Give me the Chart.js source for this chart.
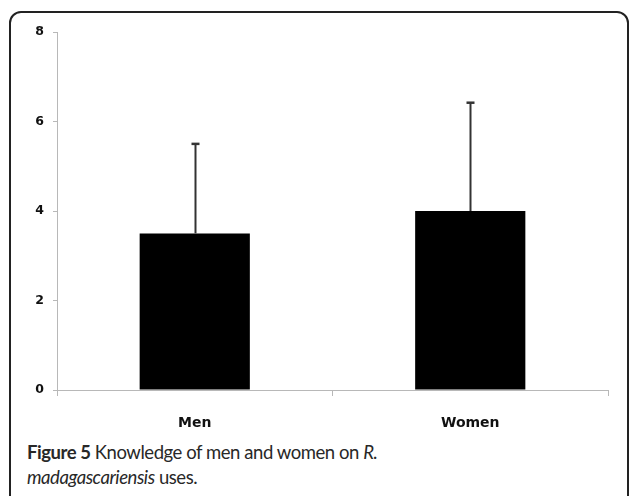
<!DOCTYPE html>
<html>
<head>
<meta charset="utf-8">
<script src="https://cdn.jsdelivr.net/npm/chart.js@4/dist/chart.umd.min.js"></script>
<style>
  html, body { margin: 0; padding: 0; background: #fff; width: 630px; height: 496px; overflow: hidden; }
  #frame {
    position: absolute; left: 9px; top: 11px; width: 620px; height: 620px;
    border: 2px solid #222; border-radius: 12px; box-sizing: border-box;
  }
  #chart { position: absolute; left: 0; top: 0; }
  #caption {
    position: absolute; left: 27px; top: 440px; width: 580px;
    font-family: Lato, "Open Sans", sans-serif; font-size: 18.5px; line-height: 25px;
    letter-spacing: -0.45px; color: #282828;
  }
  #caption b { font-weight: 700; }
</style>
</head>
<body>
<div id="frame"></div>
<canvas id="chart" width="630" height="440"></canvas>
<div id="caption"><b>Figure 5</b> Knowledge of men and women on <i>R.</i><br><i>madagascariensis</i> uses.</div>
<script>
// Mean knowledge score per group, with the standard deviation drawn as an upward whisker
const categories = ['Men', 'Women'];
const means = [3.5, 4.0];
const deviations = [2.0, 2.42];
const yTicks = [0, 2, 4, 6, 8];

const whiskers = {
  id: 'whiskers',
  afterDatasetsDraw(chart) {
    const ctx = chart.ctx;
    const meta = chart.getDatasetMeta(0);
    const y = chart.scales.y;
    ctx.save();
    ctx.strokeStyle = '#333';
    meta.data.forEach((bar, i) => {
      const top = y.getPixelForValue(means[i] + deviations[i]);
      const base = y.getPixelForValue(means[i]);
      const x = Math.round(bar.x) + 0.5;
      ctx.lineWidth = 2;
      ctx.beginPath();
      ctx.moveTo(x, base);
      ctx.lineTo(x, top);
      ctx.stroke();
      ctx.lineWidth = 2.5;
      ctx.beginPath();
      ctx.moveTo(x - 4, top);
      ctx.lineTo(x + 4, top);
      ctx.stroke();
    });
    ctx.restore();
  }
};

new Chart(document.getElementById('chart'), {
  type: 'bar',
  data: {
    labels: categories,
    datasets: [{
      data: means,
      backgroundColor: '#000',
      borderWidth: 0,
      categoryPercentage: 1.0,
      barPercentage: 0.4
    }]
  },
  options: {
    responsive: false,
    animation: false,
    events: [],
    layout: { padding: { top: 32, right: 22, left: 0, bottom: 0 } },
    plugins: { legend: { display: false }, tooltip: { enabled: false } },
    scales: {
      y: {
        min: 0, max: 8,
        afterFit(scale) { scale.width = 57; },
        afterBuildTicks(scale) { scale.ticks = yTicks.map(v => ({ value: v })); },
        border: { color: '#b8b8b8', width: 1 },
        grid: { drawOnChartArea: false, drawTicks: true, tickLength: 4, color: '#b8b8b8' },
        ticks: {
          padding: 9, color: '#111',
          font: { family: 'DejaVu Sans', weight: 'bold', size: 12.5 }
        }
      },
      x: {
        afterFit(scale) { scale.height = 50; },
        border: { color: '#b8b8b8', width: 1 },
        grid: { offset: true, drawOnChartArea: false, drawTicks: true, tickLength: 6, color: '#b8b8b8' },
        ticks: {
          padding: 19, color: '#111',
          font: { family: 'DejaVu Sans', weight: 'bold', size: 14 }
        }
      }
    }
  },
  plugins: [whiskers]
});
</script>
</body>
</html>
